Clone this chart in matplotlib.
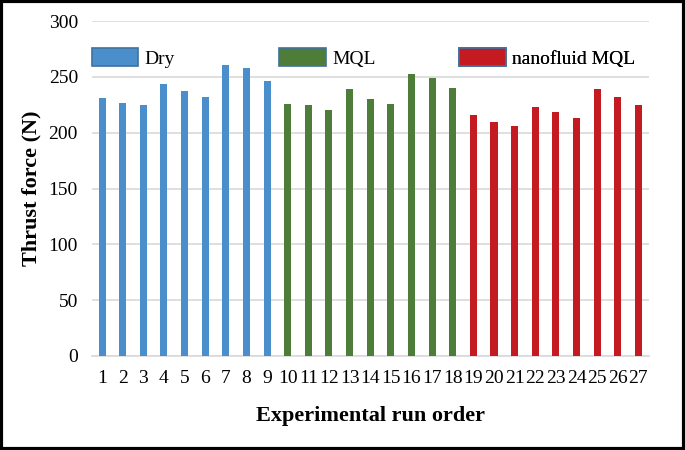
from matplotlib import pyplot as plt
from matplotlib.patches import Rectangle
import numpy as np

plt.rcParams["font.family"] = ["Liberation Serif", "DejaVu Serif"]

# run order and thrust force for each cooling condition
dry_runs = [1, 2, 3, 4, 5, 6, 7, 8, 9]
dry_force = [231, 227, 225, 244, 237, 232, 261, 258, 246]

mql_runs = [10, 11, 12, 13, 14, 15, 16, 17, 18]
mql_force = [226, 225, 220, 239, 230, 226, 253, 249, 240]

nano_runs = [19, 20, 21, 22, 23, 24, 25, 26, 27]
nano_force = [216, 210, 206, 223, 219, 213, 239, 232, 225]

tick_labels = [str(i) for i in range(1, 28)]

fig = plt.figure(figsize=(6.85, 4.5), dpi=100)
ax = fig.add_axes([0.134, 0.209, 0.813, 0.744])

width = 0.34
b1 = ax.bar(dry_runs, dry_force, width=width, color="#4a8fcc", label="Dry", zorder=3)
b2 = ax.bar(mql_runs, mql_force, width=width, color="#4d7d39", label="MQL", zorder=3)
b3 = ax.bar(nano_runs, nano_force, width=width, color="#c41b22", label="nanofluid MQL", zorder=3)

ax.set_xlim(0.5, 27.5)
ax.set_ylim(0, 300)
ax.set_yticks(np.arange(0, 301, 50))
ax.set_xticks(np.arange(1, 28))
ax.set_xticklabels(tick_labels)
ax.tick_params(axis="both", length=0, labelsize=14)
ax.tick_params(axis="x", pad=10)
ax.tick_params(axis="y", pad=10)
ax.grid(axis="y", color="#d9d9d9", linewidth=1.2, zorder=0)
for side in ["top", "right", "left"]:
    ax.spines[side].set_visible(False)
ax.spines["bottom"].set_color("#d9d9d9")
ax.spines["bottom"].set_linewidth(1.2)

ax.set_ylabel("Thrust force (N)", fontsize=16, fontweight="bold", labelpad=5)
ax.set_xlabel("Experimental run order", fontsize=16, fontweight="bold", labelpad=14)

# three separate legend boxes spread along the top
for bars, xpos in [(b1, 0.0), (b2, 0.337), (b3, 0.66)]:
    fc = bars.patches[0].get_facecolor()
    h = Rectangle((0, 0), 1, 1, facecolor=fc, edgecolor="#41719c", linewidth=1.2)
    leg = ax.legend([h], [bars.get_label()], loc="center left",
                    bbox_to_anchor=(xpos, 0.89), frameon=False, fontsize=14,
                    handlelength=2.4, handleheight=1.0, handletextpad=0.3,
                    borderaxespad=0, borderpad=0)
    ax.add_artist(leg)

fig.patches.append(Rectangle((0.002, 0.003), 0.996, 0.994, transform=fig.transFigure,
                             fill=False, edgecolor="black", linewidth=3))

plt.savefig("out.png", dpi=100)
